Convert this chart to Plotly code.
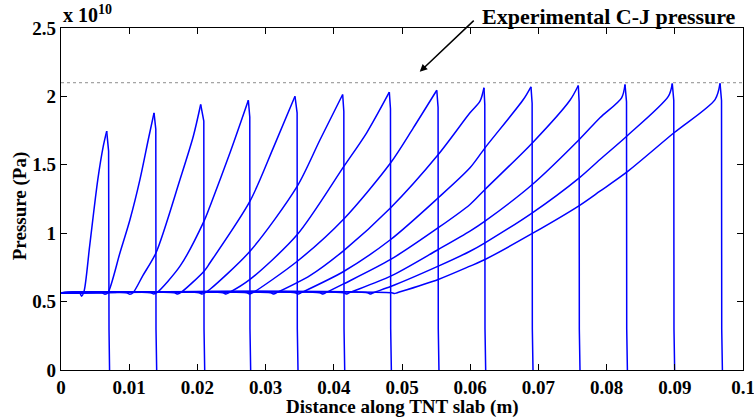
import plotly.graph_objects as go

# ---- data (pressure in units of 1e10 Pa, distance in m) ----
c1_x = [0, 0.0027, 0.00303, 0.0034, 0.0042, 0.0054, 0.0062, 0.0067, 0.00698, 0.00704, 0.00712]
c1_p = [0.565, 0.565, 0.54, 0.58, 0.905, 1.393, 1.636, 1.746, 1.60, 0.3, 0]

c2_x = [0, 0.0060, 0.00645, 0.0069, 0.00865, 0.01012, 0.01158, 0.0128, 0.01364, 0.01390, 0.01393, 0.01403]
c2_p = [0.565, 0.565, 0.553, 0.567, 0.857, 1.10, 1.393, 1.685, 1.880, 1.76, 0.3, 0]

c3_x = [0, 0.0096, 0.0101, 0.0106, 0.0120, 0.01393, 0.01745, 0.0194, 0.02048, 0.02094, 0.02097, 0.02107]
c3_p = [0.565, 0.565, 0.553, 0.567, 0.69, 0.857, 1.393, 1.709, 1.941, 1.82, 0.3, 0]

c4_x = [0, 0.0131, 0.0136, 0.0141, 0.01745, 0.02097, 0.02185, 0.02478, 0.02747, 0.02768, 0.02771, 0.02781]
c4_p = [0.565, 0.565, 0.556, 0.567, 0.759, 1.088, 1.197, 1.588, 1.972, 1.85, 0.3, 0]

c5_x = [0, 0.0166, 0.0171, 0.0176, 0.02097, 0.02185, 0.02771, 0.03113, 0.03431, 0.03462, 0.03465, 0.03475]
c5_p = [0.565, 0.565, 0.556, 0.567, 0.722, 0.784, 1.234, 1.624, 2.001, 1.88, 0.3, 0]

c6_x = [0, 0.0202, 0.0207, 0.0212, 0.02185, 0.02771, 0.03465, 0.0380, 0.0413, 0.04147, 0.0415, 0.0416]
c6_p = [0.565, 0.565, 0.556, 0.567, 0.59, 0.868, 1.344, 1.685, 2.014, 1.89, 0.3, 0]

c7_x = [0, 0.0237, 0.0242, 0.0247, 0.02771, 0.03465, 0.0415, 0.04482, 0.04814, 0.04831, 0.04834, 0.04844]
c7_p = [0.565, 0.565, 0.556, 0.567, 0.662, 0.99, 1.49, 1.734, 2.031, 1.91, 0.3, 0]

c8_x = [0, 0.0272, 0.0277, 0.0282, 0.03465, 0.0415, 0.04834, 0.05166, 0.0551, 0.05529, 0.05532, 0.05542]
c8_p = [0.565, 0.565, 0.556, 0.567, 0.795, 1.106, 1.515, 1.77, 2.045, 1.92, 0.3, 0]

c9_x = [0, 0.0307, 0.0312, 0.0317, 0.0365, 0.0415, 0.04834, 0.05532, 0.05997, 0.06144, 0.06202, 0.06214, 0.06217, 0.06227]
c9_p = [0.565, 0.565, 0.556, 0.567, 0.69, 0.875, 1.186, 1.575, 1.88, 1.965, 2.063, 1.94, 0.3, 0]

c10_x = [0, 0.0343, 0.0348, 0.0353, 0.0415, 0.04834, 0.05532, 0.05997, 0.06217, 0.06779, 0.06891, 0.06908, 0.06911, 0.06921]
c10_p = [0.565, 0.565, 0.556, 0.567, 0.722, 0.954, 1.259, 1.478, 1.624, 1.977, 2.07, 1.95, 0.3, 0]

c11_x = [0, 0.0379, 0.0384, 0.0389, 0.0415, 0.04834, 0.05532, 0.05997, 0.06217, 0.06911, 0.07463, 0.07585, 0.07597, 0.0760, 0.0761]
c11_p = [0.565, 0.565, 0.556, 0.567, 0.631, 0.808, 1.04, 1.21, 1.32, 1.66, 1.972, 2.08, 1.96, 0.3, 0]

c12_x = [0, 0.0414, 0.0419, 0.0424, 0.04834, 0.05532, 0.05997, 0.06217, 0.06911, 0.0760, 0.07903, 0.0822, 0.0827, 0.08292, 0.08295, 0.08305]
c12_p = [0.565, 0.565, 0.556, 0.567, 0.686, 0.881, 1.015, 1.088, 1.356, 1.685, 1.844, 1.99, 2.087, 1.96, 0.3, 0]

c13_x = [0, 0.0449, 0.0454, 0.0459, 0.04834, 0.05532, 0.05997, 0.06217, 0.06911, 0.0760, 0.07903, 0.08295, 0.08905, 0.08963, 0.08985, 0.08988, 0.08998]
c13_p = [0.565, 0.565, 0.556, 0.567, 0.61, 0.759, 0.868, 0.93, 1.149, 1.405, 1.539, 1.709, 2.0, 2.094, 1.97, 0.3, 0]

c14_x = [0, 0.0485, 0.0489, 0.0493, 0.05532, 0.05997, 0.06217, 0.06911, 0.0760, 0.07903, 0.08295, 0.08988, 0.0959, 0.09663, 0.09685, 0.09688, 0.09698]
c14_p = [0.565, 0.565, 0.559, 0.565, 0.662, 0.759, 0.808, 0.998, 1.202, 1.307, 1.446, 1.734, 1.977, 2.095, 1.97, 0.3, 0]

cj_pressure = 2.1
x_ticks = [0, 0.01, 0.02, 0.03, 0.04, 0.05, 0.06, 0.07, 0.08, 0.09, 0.1]
x_tick_text = ["0", "0.01", "0.02", "0.03", "0.04", "0.05", "0.06", "0.07", "0.08", "0.09", "0.1"]
y_ticks = [0, 0.5, 1, 1.5, 2, 2.5]
y_tick_text = ["0", "0.5", "1", "1.5", "2", "2.5"]

curves = [(c1_x, c1_p), (c2_x, c2_p), (c3_x, c3_p), (c4_x, c4_p), (c5_x, c5_p),
          (c6_x, c6_p), (c7_x, c7_p), (c8_x, c8_p), (c9_x, c9_p), (c10_x, c10_p),
          (c11_x, c11_p), (c12_x, c12_p), (c13_x, c13_p), (c14_x, c14_p)]

FONT = "Liberation Serif"
BLUE = "#0000ff"
fig = go.Figure()

fig.add_trace(go.Scatter(x=[x_ticks[0], x_ticks[-1]], y=[cj_pressure, cj_pressure], mode="lines",
                         line=dict(color="#8c8c8c", width=1, dash="dot"),
                         showlegend=False, hoverinfo="skip"))
for xs, ps in curves:
    ipk = ps.index(max(ps))
    # smooth rising wave up to the peak
    fig.add_trace(go.Scatter(x=xs[:ipk + 1], y=ps[:ipk + 1], mode="lines",
                             line=dict(color=BLUE, width=1.5, shape="spline", smoothing=0.8),
                             showlegend=False, hoverinfo="skip"))
    # sharp shock front
    fig.add_trace(go.Scatter(x=xs[ipk:], y=ps[ipk:], mode="lines",
                             line=dict(color=BLUE, width=1.5),
                             showlegend=False, hoverinfo="skip"))

tickfont = dict(family=FONT, size=19, color="black", weight="bold")
titlefont = dict(family=FONT, size=19, color="black", weight="bold")
fig.update_xaxes(range=[0, 0.1], tickvals=x_ticks, ticktext=x_tick_text,
                 ticks="inside", ticklen=6, tickcolor="black", tickwidth=1,
                 showline=True, linecolor="black", linewidth=1.3, mirror="ticks",
                 showgrid=False, zeroline=False, tickfont=tickfont, automargin=False,
                 ticklabeloverflow="allow")
fig.update_yaxes(range=[0, 2.5], tickvals=y_ticks, ticktext=y_tick_text,
                 ticks="inside", ticklen=6, tickcolor="black", tickwidth=1,
                 showline=True, linecolor="black", linewidth=1.3, mirror="ticks",
                 showgrid=False, zeroline=False, tickfont=tickfont, automargin=False,
                 ticklabeloverflow="allow")

# axis titles
fig.add_annotation(xref="paper", yref="paper", x=0.5, y=-0.107, xanchor="center", yanchor="middle",
                   text="Distance along TNT slab (m)", showarrow=False, font=titlefont)
fig.add_annotation(xref="paper", yref="paper", x=-0.061, y=0.48, xanchor="center", yanchor="middle",
                   text="Pressure (Pa)", textangle=-90, showarrow=False, font=titlefont)

fig.add_annotation(xref="paper", yref="paper", x=0, y=1.0, xanchor="left", yanchor="bottom",
                   text="x 10<sup>10</sup>", showarrow=False,
                   font=dict(family=FONT, size=20, color="black", weight="bold"))
fig.add_annotation(xref="paper", yref="paper", x=0.615, y=1.034, xanchor="left", yanchor="middle",
                   text="Experimental C-J pressure", showarrow=False,
                   font=dict(family=FONT, size=22, color="black", weight="bold"))
fig.add_annotation(x=0.0526, y=2.18, xref="x", yref="y", text=" ", showarrow=True,
                   axref="pixel", ayref="pixel", ax=57, ay=-54,
                   arrowhead=2, arrowsize=1, arrowwidth=1.5, arrowcolor="black")

fig.update_layout(width=754, height=418, paper_bgcolor="white", plot_bgcolor="white",
                  margin=dict(l=61, r=11, t=28, b=48), showlegend=False)

fig.write_html("out.html", config={"displayModeBar": False},
               post_script="document.body.style.margin='0px';")
